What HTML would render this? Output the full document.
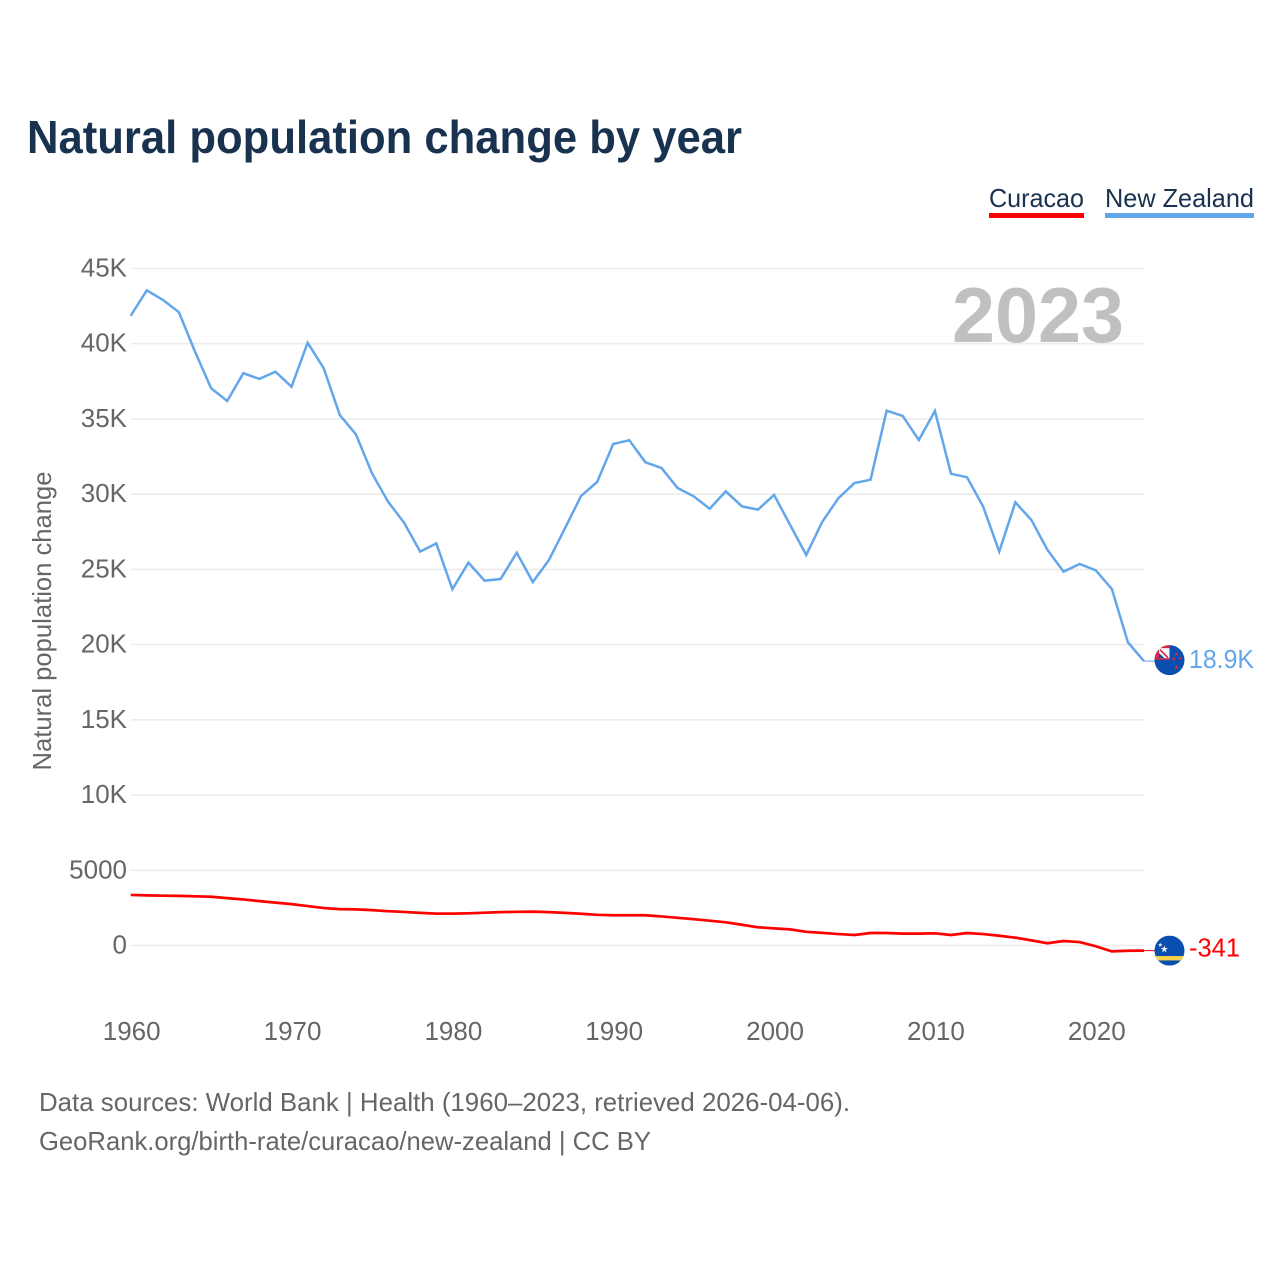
<!DOCTYPE html>
<html lang="en">
<head>
<meta charset="utf-8">
<title>Natural population change by year</title>
<style>
html,body{margin:0;padding:0;background:#fff;}
svg{display:block;}
text{font-family:"Liberation Sans",sans-serif;}
</style>
</head>
<body>
<svg id="chart" xmlns="http://www.w3.org/2000/svg" width="1280" height="1280" viewBox="0 0 1280 1280">
  <rect x="0" y="0" width="1280" height="1280" fill="#fff"/>
  <text x="27" y="153" font-size="46" font-weight="700" fill="#19324f" textLength="715" lengthAdjust="spacingAndGlyphs">Natural population change by year</text>

  <g>
    <g>
      <text x="989" y="207" font-size="26" fill="#19324f" textLength="95" lengthAdjust="spacingAndGlyphs">Curacao</text>
      <rect x="989" y="213" width="95" height="5" fill="#ff0000"/>
    </g>
    <g>
      <text x="1105" y="207" font-size="26" fill="#19324f" textLength="149" lengthAdjust="spacingAndGlyphs">New Zealand</text>
      <rect x="1105" y="213" width="149" height="5" fill="#63a6ea"/>
    </g>
  </g>

  <g id="grid"></g>
  <text x="952" y="342" font-size="78" font-weight="700" fill="#c0c0c0" textLength="172" lengthAdjust="spacingAndGlyphs">2023</text>
  <g id="yticks"></g>
  <g id="xticks"></g>
  <text transform="translate(51 621) rotate(-90)" text-anchor="middle" font-size="26" fill="#666" textLength="299" lengthAdjust="spacingAndGlyphs">Natural population change</text>
  <g id="series"></g>

  <defs>
    <clipPath id="flag-clip"><circle cx="0" cy="0" r="15"/></clipPath>
  </defs>
  <g id="flag-nz">
    <g clip-path="url(#flag-clip)">
      <rect x="-15" y="-15" width="30" height="30" fill="#0a4faf"/>
      <rect x="-15" y="-15" width="15" height="14.5" fill="#dc2440"/>
      <rect x="-10.5" y="-12" width="10.5" height="10" fill="#f6f6f6"/>
      <polygon points="-10.5,-7 -5,-2 -10.5,-2" fill="#0a4faf"/>
      <path d="M-9.5 -10.5 L-1.5 -2.5" stroke="#dc2440" stroke-width="1.6"/>
      <circle cx="7" cy="-6" r="1.4" fill="#dc2440"/>
      <circle cx="4" cy="-1" r="1.4" fill="#dc2440"/>
      <circle cx="11" cy="-2" r="1.3" fill="#dc2440"/>
      <circle cx="7" cy="7" r="1.6" fill="#dc2440"/>
    </g>
  </g>
  <g id="flag-cw">
    <g clip-path="url(#flag-clip)">
      <rect x="-15" y="-15" width="30" height="30" fill="#0a4faf"/>
      <rect x="-15" y="5.4" width="30" height="4.4" fill="#f9d04a"/>
      <polygon points="-5.2,-5.2 -4.3,-2.6 -1.6,-2.6 -3.8,-0.9 -3,1.8 -5.2,0.2 -7.4,1.8 -6.6,-0.9 -8.8,-2.6 -6.1,-2.6" fill="#e8eef8"/>
      <polygon points="-9.2,-8 -8.6,-6.4 -6.9,-6.4 -8.3,-5.3 -7.8,-3.6 -9.2,-4.7 -10.6,-3.6 -10.1,-5.3 -11.5,-6.4 -9.8,-6.4" fill="#e8eef8"/>
    </g>
  </g>
  <g id="value-labels"></g>

  <text x="39" y="1111" font-size="26" fill="#666" textLength="811" lengthAdjust="spacingAndGlyphs">Data sources: World Bank | Health (1960–2023, retrieved 2026-04-06).</text>
  <text x="39" y="1150" font-size="26" fill="#666" textLength="612" lengthAdjust="spacingAndGlyphs">GeoRank.org/birth-rate/curacao/new-zealand | CC BY</text>
</svg>
<script>
const firstYear = 1960;
const newZealand = [
  41.86,43.55,42.91,42.09,39.47,37.04,36.19,38.04,37.66,38.14,
  37.14,40.07,38.37,35.26,33.98,31.39,29.50,28.10,26.18,26.73,
  23.68,25.45,24.25,24.36,26.11,24.16,25.62,27.73,29.88,30.81,
  33.34,33.58,32.12,31.74,30.41,29.86,29.03,30.19,29.19,28.97,
  29.95,27.95,25.96,28.17,29.73,30.74,30.96,35.55,35.20,33.60,
  35.53,31.36,31.12,29.17,26.18,29.46,28.28,26.29,24.85,25.36,
  24.94,23.70,20.15,18.90
];
const curacao = [
  3.36,3.33,3.31,3.30,3.27,3.24,3.15,3.06,2.95,2.85,
  2.75,2.62,2.49,2.42,2.40,2.35,2.28,2.23,2.17,2.12,
  2.12,2.14,2.18,2.22,2.24,2.25,2.22,2.17,2.11,2.04,
  2.01,2.01,2.01,1.93,1.84,1.75,1.65,1.54,1.38,1.21,
  1.14,1.07,0.91,0.84,0.76,0.70,0.83,0.83,0.79,0.79,
  0.81,0.70,0.83,0.76,0.65,0.52,0.34,0.15,0.30,0.23,
  -0.05,-0.39,-0.35,-0.341
];
const yTickValues = [45,40,35,30,25,20,15,10,5,0];
const yTickLabels = ['45K','40K','35K','30K','25K','20K','15K','10K','5000','0'];
const xTickYears = [1960,1970,1980,1990,2000,2010,2020];
const endLabels = ['18.9K','-341'];

const NS = 'http://www.w3.org/2000/svg';
function xScale(year){ return 130.7 + (year - 1960) * (1144 - 130.7) / 63; }
function yScale(v){ return 945.5 - v * (945.5 - 268.5) / 45; }

const grid = document.getElementById('grid');
const yticks = document.getElementById('yticks');
yTickValues.forEach(function(v, i){
  const line = document.createElementNS(NS, 'line');
  
  
  line.setAttribute('x1', 131);
  line.setAttribute('x2', 1144);
  line.setAttribute('y1', yScale(v));
  line.setAttribute('y2', yScale(v));
  line.setAttribute('stroke', '#ececec');
  line.setAttribute('stroke-width', '1.6');
  grid.appendChild(line);
  const t = document.createElementNS(NS, 'text');
  
  
  t.setAttribute('x', 127);
  t.setAttribute('y', yScale(v) + 8);
  t.setAttribute('text-anchor', 'end');
  t.setAttribute('font-size', '26');
  t.setAttribute('fill', '#666');
  t.textContent = yTickLabels[i];
  yticks.appendChild(t);
});

const xticks = document.getElementById('xticks');
xTickYears.forEach(function(yr){
  const t = document.createElementNS(NS, 'text');
  
  
  t.setAttribute('x', xScale(yr) + 1);
  t.setAttribute('y', 1040);
  t.setAttribute('text-anchor', 'middle');
  t.setAttribute('font-size', '26');
  t.setAttribute('fill', '#666');
  t.textContent = String(yr);
  xticks.appendChild(t);
});

function pathFor(values){
  return values.map(function(v, i){
    return (i ? 'L' : 'M') + xScale(firstYear + i).toFixed(2) + ' ' + yScale(v).toFixed(2);
  }).join(' ');
}

const series = document.getElementById('series');
const nzLine = document.createElementNS(NS, 'path');


nzLine.setAttribute('d', pathFor(newZealand));
nzLine.setAttribute('fill', 'none');
nzLine.setAttribute('stroke', '#63a6ea');
nzLine.setAttribute('stroke-width', '2.5');
nzLine.setAttribute('stroke-linejoin', 'miter');
series.appendChild(nzLine);

const cwLine = document.createElementNS(NS, 'path');


cwLine.setAttribute('d', pathFor(curacao));
cwLine.setAttribute('fill', 'none');
cwLine.setAttribute('stroke', '#ff0000');
cwLine.setAttribute('stroke-width', '2.7');
series.appendChild(cwLine);

const nzLast = yScale(newZealand[newZealand.length - 1]);
const cwLast = yScale(curacao[curacao.length - 1]);

const nzConn = document.createElementNS(NS, 'line');


nzConn.setAttribute('x1', 1144);
nzConn.setAttribute('x2', 1156);
nzConn.setAttribute('y1', nzLast);
nzConn.setAttribute('y2', nzLast);
nzConn.setAttribute('stroke', '#63a6ea');
nzConn.setAttribute('stroke-width', '1');
series.appendChild(nzConn);

const cwConn = document.createElementNS(NS, 'line');


cwConn.setAttribute('x1', 1144);
cwConn.setAttribute('x2', 1156);
cwConn.setAttribute('y1', cwLast);
cwConn.setAttribute('y2', cwLast);
cwConn.setAttribute('stroke', '#ff0000');
cwConn.setAttribute('stroke-width', '1');
series.appendChild(cwConn);

document.getElementById('flag-nz').setAttribute('transform', 'translate(1169.5 ' + (nzLast - 1) + ')');
document.getElementById('flag-cw').setAttribute('transform', 'translate(1169.5 ' + cwLast + ')');

const valueLabels = document.getElementById('value-labels');
const nzLabel = document.createElementNS(NS, 'text');


nzLabel.setAttribute('x', 1189);
nzLabel.setAttribute('y', nzLast + 7);
nzLabel.setAttribute('font-size', '26');
nzLabel.setAttribute('fill', '#63a6ea');
nzLabel.setAttribute('textLength', '65');
nzLabel.setAttribute('lengthAdjust', 'spacingAndGlyphs');
nzLabel.textContent = endLabels[0];
valueLabels.appendChild(nzLabel);

const cwLabel = document.createElementNS(NS, 'text');


cwLabel.setAttribute('x', 1189);
cwLabel.setAttribute('y', cwLast + 6);
cwLabel.setAttribute('font-size', '26');
cwLabel.setAttribute('fill', '#ff0000');
cwLabel.setAttribute('textLength', '51');
cwLabel.setAttribute('lengthAdjust', 'spacingAndGlyphs');
cwLabel.textContent = endLabels[1];
valueLabels.appendChild(cwLabel);
</script>
</body>
</html>
